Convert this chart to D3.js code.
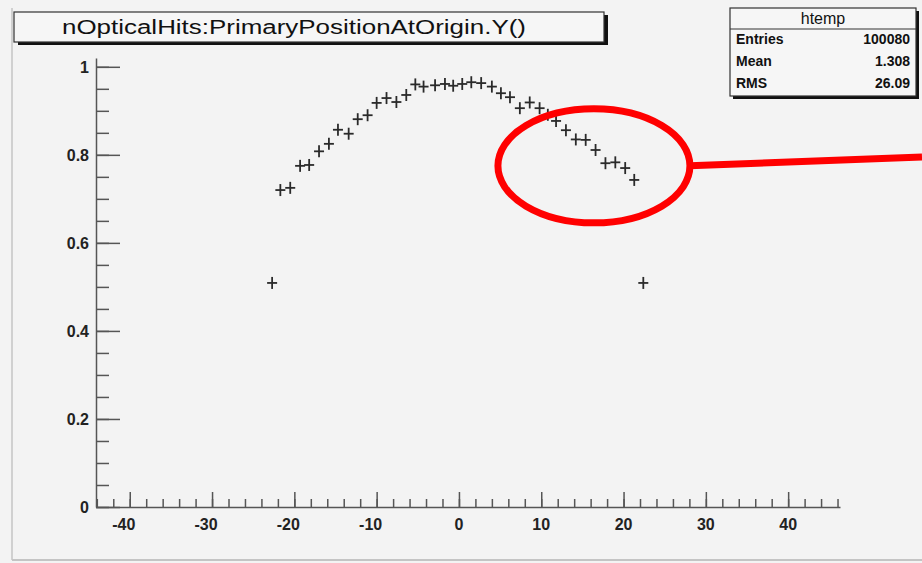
<!DOCTYPE html>
<html>
<head>
<meta charset="utf-8">
<script src="https://cdn.jsdelivr.net/npm/d3@7/dist/d3.min.js"></script>
<style>
  html, body { margin: 0; padding: 0; background: #f3f3f3; }
  svg { display: block; font-family: "Liberation Sans", Arial, sans-serif; }
  .axis path, .axis line { stroke: #555; stroke-width: 1.5; }
  .axis text { font-weight: bold; font-size: 16px; fill: #222; }
</style>
</head>
<body>
<div id="chart"></div>
<script>
// 直方图数据 (profile: 每个 bin 的中心与均值)
var binCenters = [
  -22.7, -21.7, -20.5, -19.3, -18.2, -17.0, -15.8, -14.7, -13.4, -12.3,
  -11.1, -10.0, -8.8, -7.6, -6.4, -5.3, -4.3, -2.9, -1.7, -0.7,
  0.4, 1.5, 2.7, 4.0, 5.1, 6.2, 7.4, 8.6, 9.8, 10.8,
  11.8, 13.0, 14.2, 15.4, 16.6, 17.8, 19.0, 20.2, 21.3, 22.4
];
var binMeans = [
  0.509, 0.720, 0.725, 0.775, 0.777, 0.808, 0.825, 0.857, 0.848, 0.881,
  0.890, 0.918, 0.929, 0.920, 0.936, 0.960, 0.955, 0.958, 0.961, 0.957,
  0.961, 0.965, 0.963, 0.955, 0.940, 0.931, 0.906, 0.919, 0.906, 0.891,
  0.877, 0.856, 0.835, 0.834, 0.811, 0.781, 0.783, 0.770, 0.743, 0.509
];
var xTicks = [-40, -30, -20, -10, 0, 10, 20, 30, 40];
var yTicks = [0, 0.2, 0.4, 0.6, 0.8, 1];
var titleText = 'nOpticalHits:PrimaryPositionAtOrigin.Y()';
var statsName = 'htemp';
var statsLabels = ['Entries', 'Mean', 'RMS'];
var statsValues = ['100080', '1.308', '26.09'];

var width = 922, height = 563;
var svg = d3.select('#chart').append('svg')
  .attr('width', width)
  .attr('height', height);

// 画布边框
svg.append('line').attr('x1', 12).attr('y1', 8).attr('x2', 12).attr('y2', 560)
  .attr('stroke', '#c4c4c4').attr('stroke-width', 1.5);
svg.append('line').attr('x1', 12).attr('y1', 560).attr('x2', width).attr('y2', 560)
  .attr('stroke', '#c4c4c4').attr('stroke-width', 2);

// 坐标比例尺
var x = d3.scaleLinear().domain([-44.1, 46.3]).range([96, 840]);
var y = d3.scaleLinear().domain([0, 1.02]).range([507, 58]);

// x 轴: 主刻度 + 次刻度 (刻度朝上)
var xMinor = d3.range(-44, 47, 2);
svg.append('g').classed('axis', true)
  .attr('transform', 'translate(0,' + y(0) + ')')
  .call(d3.axisTop(x).tickValues(xMinor).tickSize(8).tickFormat(''))
  .call(function (g) { g.select('.domain').remove(); });
svg.append('g').classed('axis', true)
  .attr('transform', 'translate(0,' + y(0) + ')')
  .call(d3.axisTop(x).tickValues(xTicks).tickSize(15).tickSizeOuter(0).tickFormat(''));
svg.append('g').classed('axis', true)
  .selectAll('text')
  .data(xTicks)
  .enter()
  .append('text')
  .attr('x', function (d) { return x(d) - (d < 0 ? 6 : 0); })
  .attr('y', y(0) + 23)
  .attr('text-anchor', 'middle')
  .text(function (d) { return d; });

// y 轴: 主刻度 + 次刻度 (刻度朝右)
var yMinor = d3.range(0, 1.001, 0.05);
svg.append('g').classed('axis', true)
  .attr('transform', 'translate(' + x.range()[0] + ',0)')
  .call(d3.axisRight(y).tickValues(yMinor).tickSize(13).tickFormat(''))
  .call(function (g) { g.select('.domain').remove(); });
svg.append('g').classed('axis', true)
  .attr('transform', 'translate(' + x.range()[0] + ',0)')
  .call(d3.axisRight(y).tickValues(yTicks).tickSize(24).tickSizeOuter(0).tickFormat(''));
svg.append('g').classed('axis', true)
  .selectAll('text')
  .data(yTicks)
  .enter()
  .append('text')
  .attr('x', x.range()[0] - 7)
  .attr('y', function (d) { return y(d) + 6; })
  .attr('text-anchor', 'end')
  .text(function (d) { return d; });

// 数据点: 十字标记
var points = binCenters.map(function (c, i) { return { x: c, y: binMeans[i] }; });
var marks = svg.append('g').classed('marks', true)
  .attr('stroke', '#2a2a2a')
  .attr('stroke-width', 1.8);
var crosses = marks.selectAll('g')
  .data(points)
  .enter()
  .append('g')
  .attr('transform', function (d) {
    return 'translate(' + x(d.x) + ',' + y(d.y) + ')';
  });
crosses.append('line').attr('x1', -5).attr('x2', 5).attr('y1', 0).attr('y2', 0);
crosses.append('line').attr('x1', 0).attr('x2', 0).attr('y1', -6).attr('y2', 6);

// 标题框 (带阴影)
var titleBox = svg.append('g').classed('title', true);
titleBox.append('rect').attr('x', 18).attr('y', 15).attr('width', 590).attr('height', 30).attr('fill', '#111');
titleBox.append('rect').attr('x', 14).attr('y', 12).attr('width', 590).attr('height', 30)
  .attr('fill', '#f6f6f6').attr('stroke', '#333').attr('stroke-width', 1.2);
titleBox.append('text')
  .attr('x', 294).attr('y', 34)
  .attr('text-anchor', 'middle')
  .attr('font-size', '20px')
  .attr('fill', '#111')
  .attr('textLength', 464)
  .attr('lengthAdjust', 'spacingAndGlyphs')
  .text(titleText);

// 统计框
var stats = svg.append('g').classed('stats', true);
stats.append('rect').attr('x', 733).attr('y', 11).attr('width', 186).attr('height', 88).attr('fill', '#111');
stats.append('rect').attr('x', 730).attr('y', 8).attr('width', 186).attr('height', 88)
  .attr('fill', '#f6f6f6').attr('stroke', '#333').attr('stroke-width', 1.2);
stats.append('line').attr('x1', 730).attr('x2', 916).attr('y1', 29).attr('y2', 29)
  .attr('stroke', '#333').attr('stroke-width', 1.2);
stats.append('text')
  .attr('x', 823).attr('y', 24)
  .attr('text-anchor', 'middle')
  .attr('font-size', '16px')
  .attr('fill', '#111')
  .text(statsName);
stats.selectAll('text.lab')
  .data(statsLabels)
  .enter()
  .append('text')
  .attr('class', 'lab')
  .attr('x', 736)
  .attr('y', function (d, i) { return 44 + i * 22; })
  .attr('font-size', '14px')
  .attr('font-weight', 'bold')
  .attr('fill', '#111')
  .text(function (d) { return d; });
stats.selectAll('text.val')
  .data(statsValues)
  .enter()
  .append('text')
  .attr('class', 'val')
  .attr('x', 910)
  .attr('y', function (d, i) { return 44 + i * 22; })
  .attr('text-anchor', 'end')
  .attr('font-size', '14px')
  .attr('font-weight', 'bold')
  .attr('fill', '#111')
  .text(function (d) { return d; });

// 红色圈注
var note = svg.append('g').classed('annotation', true)
  .attr('fill', 'none').attr('stroke', '#ff0000').attr('stroke-width', 7);
note.append('ellipse').attr('cx', x(16.4)).attr('cy', y(0.775)).attr('rx', 96).attr('ry', 57);
note.append('line')
  .attr('x1', x(16.4) + 96).attr('y1', y(0.775))
  .attr('x2', width).attr('y2', y(0.795));
</script>
</body>
</html>
